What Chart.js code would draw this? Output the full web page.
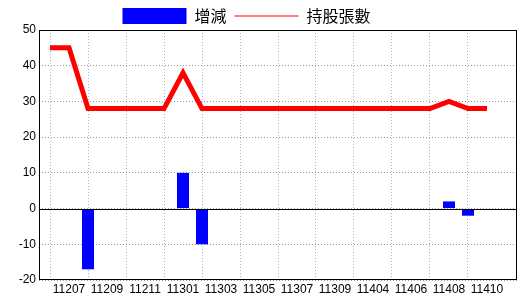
<!DOCTYPE html>
<html>
<head>
<meta charset="utf-8">
<script src="https://cdn.jsdelivr.net/npm/chart.js@4/dist/chart.umd.min.js"></script>
<style>
  html, body { margin: 0; padding: 0; background: #fff; }
  #wrap { width: 520px; height: 300px; }
</style>
</head>
<body>
<div id="wrap"><canvas id="c"></canvas></div>
<script>
// months (yyymm), one per data point
const months = [
  '11206', '11207', '11208', '11209', '11210', '11211', '11212', '11301',
  '11302', '11303', '11304', '11305', '11306', '11307', '11308', '11309',
  '11310', '11404', '11405', '11406', '11407', '11408', '11409', '11410'
];
// change in holdings (bars)
const changes = [0, 0, -17, 0, 0, 0, 0, 10, -10, 0, 0, 0, 0, 0, 0, 0, 0, 0, 0, 0, 0, 2, -2, 0];
// holdings in lots (line)
const holdings = [45, 45, 28, 28, 28, 28, 28, 38, 28, 28, 28, 28, 28, 28, 28, 28, 28, 28, 28, 28, 28, 30, 28, 28];
const yTicks = [-20, -10, 0, 10, 20, 30, 40, 50];

const FONT = 'Liberation Sans, Arial, sans-serif';
const CJK = '"Noto Sans CJK TC", "Noto Sans CJK SC", sans-serif';

// frame round the plot and solid zero line
const framePlugin = {
  id: 'frame',
  afterLayout(chart) {
    // legend sits left of centre in the reference
    chart.legend.left -= 12;
    chart.legend.right -= 12;
  },
  afterDatasetsDraw(chart) {
    const { ctx, chartArea: a, scales } = chart;
    const y0 = Math.round(scales.y.getPixelForValue(0)) + 0.5;
    ctx.save();
    ctx.strokeStyle = '#000';
    ctx.lineWidth = 1;
    ctx.beginPath();
    ctx.moveTo(a.left, y0);
    ctx.lineTo(a.right, y0);
    ctx.stroke();
    ctx.strokeRect(Math.round(a.left) + 0.5, Math.round(a.top) + 0.5,
      Math.round(a.right - a.left) - 1, Math.round(a.bottom - a.top) - 1);
    ctx.restore();
  }
};

new Chart(document.getElementById('c'), {
  type: 'bar',
  data: {
    datasets: [
      {
        label: '增減',
        data: changes.map((v, i) => ({ x: i, y: v })),
        backgroundColor: '#0000ff',
        borderWidth: 0,
        inflateAmount: 0,
        barThickness: 12
      },
      {
        type: 'line',
        label: '持股張數',
        data: holdings.map((v, i) => ({ x: i, y: v })),
        borderColor: '#ff0000',
        backgroundColor: '#ff0000',
        borderWidth: 5,
        pointRadius: 0,
        tension: 0
      }
    ]
  },
  options: {
    responsive: true,
    maintainAspectRatio: false,
    animation: false,
    layout: { padding: { right: 3, top: 0 } },
    plugins: {
      tooltip: { enabled: false },
      legend: {
        position: 'top',
        maxHeight: 30,
        labels: {
          usePointStyle: true,
          pointStyleWidth: 64,
          boxHeight: 16,
          padding: 8,
          color: '#000',
          font: { family: CJK, size: 16 },
          generateLabels(chart) {
            return chart.data.datasets.map((ds, i) => ({
              text: ds.label,
              datasetIndex: i,
              fillStyle: ds.type === 'line' ? '#ff0000' : '#0000ff',
              strokeStyle: ds.type === 'line' ? '#ff0000' : '#0000ff',
              lineWidth: ds.type === 'line' ? 1 : 0,
              pointStyle: ds.type === 'line' ? 'line' : 'rect',
              fontColor: '#000'
            }));
          }
        }
      }
    },
    scales: {
      x: {
        type: 'linear',
        offset: false,
        min: -0.58,
        max: 24.58,
        afterBuildTicks(axis) {
          axis.ticks = months.map((m, i) => ({ value: i }));
        },
        afterFit(axis) { axis.height = 20; },
        ticks: {
          autoSkip: false,
          maxRotation: 0,
          padding: 2,
          color: '#000',
          font: { family: FONT, size: 12 },
          callback: v => (v % 2 === 1 ? months[v] : '')
        },
        grid: {
          offset: false,
          drawTicks: false,
          color: c => (c.tick && c.tick.value % 2 === 0 ? '#9cbcd0' : 'rgba(0,0,0,0)')
        },
        border: { display: false, dash: [1, 2] }
      },
      y: {
        min: -20,
        max: 50,
        afterBuildTicks(axis) {
          axis.ticks = yTicks.map(v => ({ value: v }));
        },
        afterFit(axis) { axis.width = 39; },
        ticks: {
          padding: 3,
          color: '#000',
          font: { family: FONT, size: 12 }
        },
        grid: {
          drawTicks: false,
          color: '#999999'
        },
        border: { display: false, dash: [1, 2] }
      }
    }
  },
  plugins: [framePlugin]
});
</script>
</body>
</html>
